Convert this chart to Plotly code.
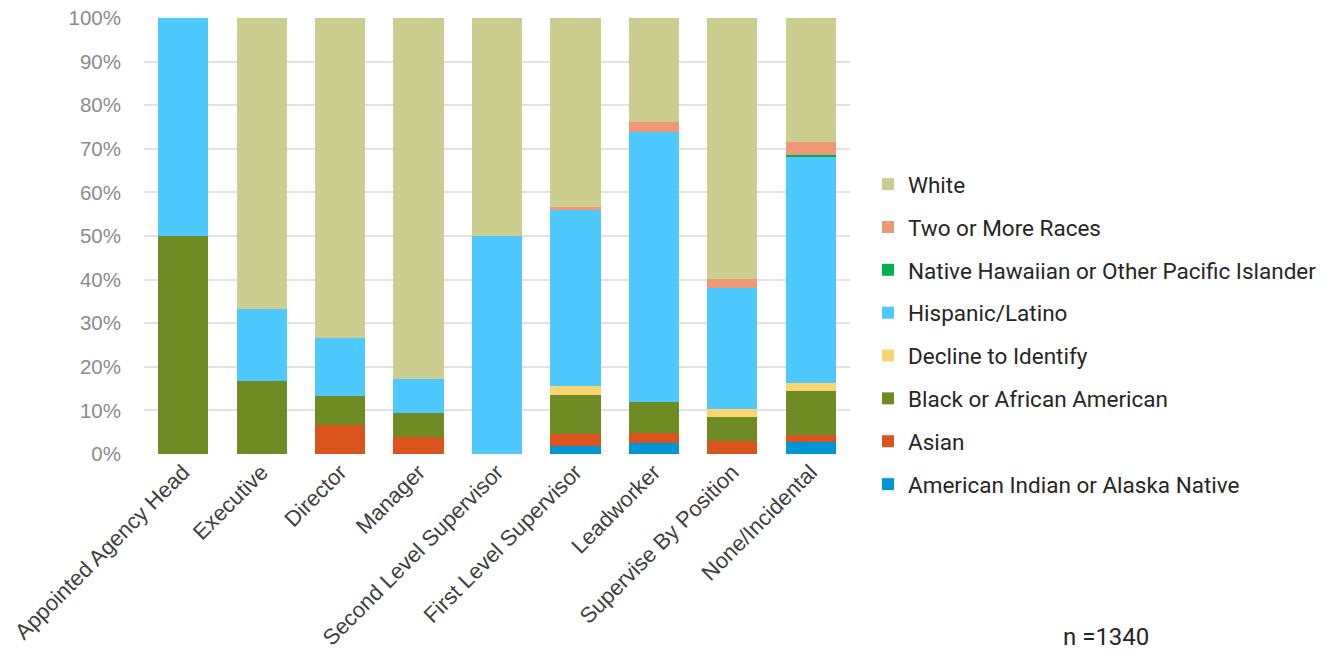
import plotly.graph_objects as go

categories = ["Appointed Agency Head", "Executive", "Director", "Manager",
              "Second Level Supervisor", "First Level Supervisor", "Leadworker",
              "Supervise By Position", "None/Incidental"]

aian = [0, 0, 0, 0, 0, 1.8, 2.45, 0, 2.7]
asian = [0, 0, 6.7, 3.8, 0, 2.8, 2.3, 2.9, 1.6]
black = [50, 16.7, 6.6, 5.7, 0, 9.0, 7.1, 5.7, 10.2]
decline = [0, 0, 0, 0, 0, 2.0, 0, 1.7, 1.8]
hispanic = [50, 16.6, 13.4, 7.8, 50, 40.4, 62.0, 27.8, 51.9]
nhpi = [0, 0, 0, 0, 0, 0, 0, 0, 0.4]
two_more = [0, 0, 0, 0, 0, 0.7, 2.2, 2.0, 3.0]
white = [0, 66.7, 73.3, 82.7, 50, 43.3, 23.95, 59.9, 28.4]

series = [
    ("American Indian or Alaska Native", aian, "#0096D6"),
    ("Asian", asian, "#DA541E"),
    ("Black or African American", black, "#6E8B24"),
    ("Decline to Identify", decline, "#FAD673"),
    ("Hispanic/Latino", hispanic, "#4DC9FF"),
    ("Native Hawaiian or Other Pacific Islander", nhpi, "#00B050"),
    ("Two or More Races", two_more, "#EE9877"),
    ("White", white, "#CBCE8E"),
]

fig = go.Figure()
for i, (name, vals, color) in enumerate(series):
    fig.add_trace(go.Bar(
        x=categories, y=vals, name=name, legendgroup=name,
        legendrank=100 - i,
        marker=dict(color=color, line=dict(width=0)),
    ))

fig.update_layout(
    barmode="stack",
    bargap=0.36,
    width=1326, height=659,
    margin=dict(l=144, r=476, t=18, b=205, autoexpand=False),
    plot_bgcolor="white", paper_bgcolor="white",
    font=dict(family="Liberation Sans, Arial, sans-serif"),
    legend=dict(
        traceorder="grouped",
        tracegroupgap=10.6,
        x=(868 - 144) / 706, xanchor="left", y=(454 - 163) / 436, yanchor="top",
        font=dict(family="Roboto, Liberation Sans, sans-serif", size=22.5, color="#262626"),
        itemwidth=30,
        bgcolor="rgba(0,0,0,0)",
    ),
    xaxis=dict(
        tickangle=-45,
        tickfont=dict(size=22, color="#404040"),
        showgrid=False, showline=False, ticks="",
        automargin=False,
    ),
    yaxis=dict(
        range=[0, 100],
        tickvals=[0, 10, 20, 30, 40, 50, 60, 70, 80, 90, 100],
        ticktext=[f"{v}%" for v in range(0, 101, 10)],
        tickfont=dict(size=20.5, color="#8C8C8C"),
        gridcolor="#E3E3E3", gridwidth=1.5,
        zeroline=False, showline=False,
        ticklabelstandoff=22,
        automargin=False,
    ),
    annotations=[dict(
        text="n =1340", x=(1106 - 144) / 706, y=(454 - 637) / 436,
        xref="paper", yref="paper", xanchor="center", yanchor="middle",
        showarrow=False,
        font=dict(family="Roboto, Liberation Sans, sans-serif", size=24, color="#262626"),
    )],
)

fig.write_html("out.html")
